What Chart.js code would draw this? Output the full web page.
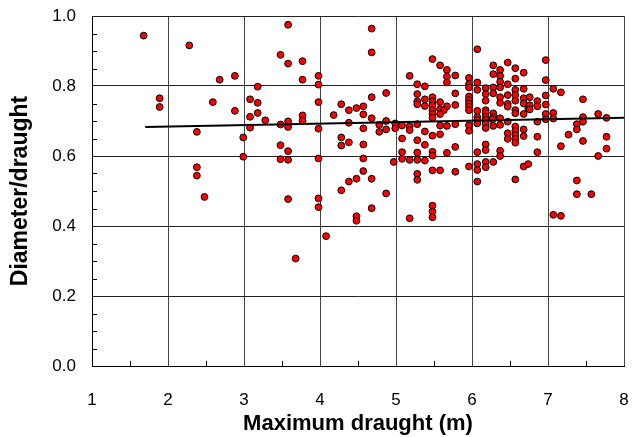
<!DOCTYPE html>
<html><head><meta charset="utf-8">
<script src="https://cdn.jsdelivr.net/npm/chart.js@4/dist/chart.umd.min.js"></script>
<style>html,body{margin:0;padding:0;background:#fff}#wrap{width:638px;height:437px;position:relative}</style>
</head><body><div id="wrap"><canvas id="c" width="638" height="437"></canvas></div>
<script>
// Maximum draught (m)
const draughtX = [
1.68,2.28,2.68,2.88,3.18,1.89,1.89,2.59,3.08,3.18,2.88,3.18,3.08,3.08,2.38,2.99,2.99,2.38,2.38,2.48,
3.58,4.68,4.68,3.48,3.58,3.77,3.77,3.98,3.98,3.98,4.87,4.68,4.28,4.38,4.48,4.57,4.57,4.18,3.28,3.77,
3.77,3.58,3.48,3.58,4.38,4.68,4.87,4.78,4.78,4.87,4.57,3.98,4.28,4.28,4.38,4.57,3.48,3.58,3.48,3.58,
3.98,4.57,4.57,4.48,4.68,4.38,4.28,4.87,3.58,3.98,3.98,4.68,4.48,4.48,4.08,3.68,
5.48,5.58,5.67,5.18,5.67,5.78,5.67,5.28,5.38,5.78,5.28,5.48,5.38,5.28,5.48,5.58,5.28,5.38,5.48,5.67,
5.78,5.58,5.48,5.63,5.58,5.48,5.48,4.99,5.08,5.18,5.28,5.58,5.67,5.78,4.99,5.18,5.38,5.58,5.48,5.08,
5.28,5.38,5.78,5.08,5.28,5.48,5.67,5.48,5.08,5.18,5.28,4.97,5.38,5.48,5.58,5.78,5.28,5.28,5.48,5.48,
5.48,5.18,
6.07,6.47,6.28,6.57,6.37,6.68,6.28,6.37,6.57,5.96,6.37,6.07,5.96,6.47,6.28,6.37,6.68,6.18,5.96,6.07,
6.57,6.18,6.28,6.47,6.57,5.96,6.37,6.68,6.18,5.96,6.57,6.37,6.47,6.68,5.96,6.74,5.96,6.47,6.57,5.96,
6.07,6.18,6.18,6.28,6.68,6.57,6.07,6.18,6.28,6.37,6.07,6.18,6.27,6.47,6.07,6.18,5.96,6.28,6.37,6.18,
6.57,6.57,6.68,5.96,6.47,6.57,6.68,6.47,6.57,6.57,6.18,6.18,6.07,6.37,6.37,5.96,6.07,6.07,6.18,6.18,
6.28,6.68,6.74,6.07,6.57,
6.97,6.97,7.07,7.17,7.46,6.97,6.76,6.86,6.76,6.86,6.97,6.76,6.97,7.07,7.66,6.97,7.07,6.86,7.46,7.46,
7.38,7.38,7.27,6.86,7.46,7.17,6.86,7.66,7.38,7.38,7.57,7.07,7.17,7.77,7.77,7.77
];
// Diameter/draught
const ratioY = [
0.944,0.916,0.818,0.829,0.798,0.765,0.740,0.754,0.762,0.752,0.729,0.723,0.712,0.681,0.669,0.653,0.598,0.568,0.544,0.483,
0.975,0.964,0.896,0.889,0.864,0.871,0.818,0.829,0.804,0.754,0.780,0.768,0.748,0.731,0.737,0.742,0.719,0.717,0.702,0.716,
0.701,0.699,0.690,0.683,0.695,0.708,0.700,0.689,0.669,0.676,0.679,0.678,0.653,0.630,0.639,0.633,0.631,0.614,0.591,0.589,
0.593,0.593,0.557,0.535,0.535,0.527,0.502,0.493,0.477,0.479,0.454,0.451,0.428,0.415,0.371,0.307,
0.877,0.859,0.846,0.829,0.827,0.830,0.810,0.805,0.799,0.779,0.777,0.768,0.762,0.756,0.756,0.754,0.748,0.743,0.745,0.742,
0.746,0.734,0.731,0.731,0.720,0.720,0.709,0.693,0.687,0.685,0.691,0.687,0.686,0.691,0.679,0.674,0.670,0.662,0.658,0.650,
0.645,0.632,0.626,0.611,0.610,0.612,0.609,0.601,0.592,0.589,0.589,0.583,0.587,0.559,0.559,0.555,0.549,0.532,0.458,0.441,
0.425,0.422,
0.905,0.867,0.859,0.851,0.846,0.838,0.834,0.829,0.821,0.823,0.812,0.810,0.805,0.805,0.796,0.796,0.792,0.794,0.796,0.789,
0.789,0.777,0.779,0.774,0.774,0.770,0.768,0.765,0.758,0.760,0.758,0.752,0.749,0.750,0.750,0.736,0.741,0.741,0.731,0.731,
0.729,0.731,0.724,0.722,0.720,0.722,0.711,0.712,0.711,0.708,0.703,0.703,0.705,0.698,0.693,0.693,0.688,0.686,0.689,0.680,
0.684,0.672,0.676,0.672,0.665,0.660,0.657,0.649,0.649,0.638,0.633,0.617,0.611,0.615,0.600,0.570,0.577,0.560,0.583,0.568,
0.583,0.570,0.577,0.527,0.533,
0.874,0.817,0.792,0.782,0.762,0.773,0.768,0.757,0.745,0.742,0.747,0.733,0.720,0.723,0.720,0.705,0.707,0.698,0.711,0.698,
0.691,0.676,0.661,0.655,0.643,0.628,0.611,0.600,0.530,0.491,0.491,0.432,0.429,0.709,0.655,0.621
];
// Fitted trend line end points
const trendX = [1.70, 8.00];
const trendY = [0.683, 0.709];

const xTickLabels = ['1','2','3','4','5','6','7','8'];
const yTickLabels = ['0.0','0.2','0.4','0.6','0.8','1.0'];
const xMinorTicks = [1.5,2.5,3.5,4.5,5.5,6.5,7.5];
const yMinorTicks = [0.05,0.1,0.15,0.25,0.3,0.35,0.45,0.5,0.55,0.65,0.7,0.75,0.85,0.9,0.95];

const points = draughtX.map((x, i) => ({x: x, y: ratioY[i]}));
const trend = trendX.map((x, i) => ({x: x, y: trendY[i]}));

const minorTickPlugin = {
  id: 'minorTicks',
  beforeDatasetsDraw(chart) {
    const ctx = chart.ctx, xs = chart.scales.x, ys = chart.scales.y, a = chart.chartArea;
    ctx.save();
    ctx.strokeStyle = '#000';
    ctx.lineWidth = 1;
    ctx.beginPath();
    xMinorTicks.forEach(v => {
      const p = Math.round(xs.getPixelForValue(v)) + 0.5;
      ctx.moveTo(p, a.bottom); ctx.lineTo(p, a.bottom - 5);
    });
    yMinorTicks.forEach(v => {
      const p = Math.round(ys.getPixelForValue(v)) + 0.5;
      ctx.moveTo(a.left, p); ctx.lineTo(a.left + 5, p);
    });
    ctx.stroke();
    ctx.restore();
  }
};

const FONT = "'Liberation Sans', Arial, sans-serif";

new Chart(document.getElementById('c'), {
  type: 'scatter',
  data: {
    datasets: [
      {
        type: 'line',
        data: trend,
        borderColor: '#000',
        borderWidth: 2,
        pointRadius: 0,
        fill: false,
        order: 0
      },
      {
        data: points,
        backgroundColor: '#ff0000',
        borderColor: '#000',
        borderWidth: 1,
        pointRadius: 3.4,
        order: 1
      }
    ]
  },
  options: {
    responsive: false,
    animation: false,
    devicePixelRatio: 1,
    layout: { padding: { top: 16, right: 14, left: 0, bottom: 0 } },
    plugins: { legend: { display: false }, tooltip: { enabled: false } },
    scales: {
      x: {
        type: 'linear', min: 1, max: 8,
        afterFit(s) { s.height = 71; s.paddingLeft = 0; s.paddingRight = 0; },
        ticks: {
          stepSize: 1, padding: 24, color: '#000',
          font: { family: FONT, size: 17 },
          callback: (v, i) => xTickLabels[i]
        },
        grid: { color: '#444', lineWidth: 1, drawTicks: false },
        border: { color: '#000', width: 1 },
        title: {
          display: true, text: 'Maximum draught (m)', color: '#000',
          font: { family: FONT, size: 22, weight: 'bold' },
          padding: { top: 0, bottom: 0 }
        }
      },
      y: {
        type: 'linear', min: 0, max: 1,
        afterFit(s) { s.width = 92; s.paddingTop = 0; s.paddingBottom = 0; },
        ticks: {
          stepSize: 0.2, padding: 16, color: '#000',
          font: { family: FONT, size: 17 },
          callback: (v, i) => yTickLabels[i]
        },
        grid: { color: '#222', lineWidth: 1, drawTicks: false },
        border: { color: '#000', width: 1 },
        title: {
          display: true, text: 'Diameter/draught', color: '#000',
          font: { family: FONT, size: 23, weight: 'bold' },
          padding: { top: 7, bottom: 0 }
        }
      }
    }
  },
  plugins: [minorTickPlugin]
});
</script>
</body></html>
